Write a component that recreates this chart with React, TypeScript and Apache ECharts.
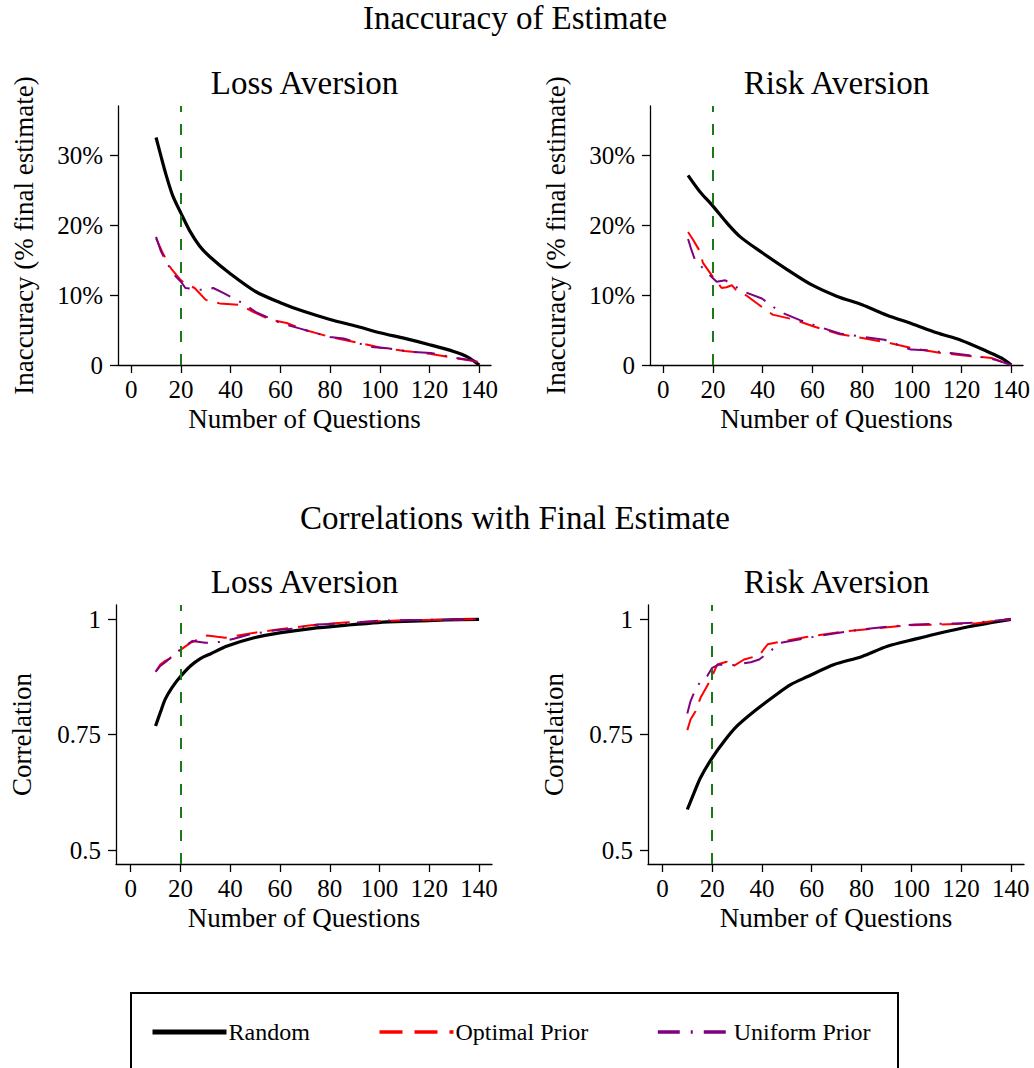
import React, { useEffect, useRef } from "react";
import * as echarts from "echarts";

const FONT = "Liberation Serif";

const xTicks = [0, 20, 40, 60, 80, 100, 120, 140];
const inaccTicks = [0, 10, 20, 30];
const corrTicks = [0.5, 0.75, 1];
const seriesNames = ["Random", "Optimal Prior", "Uniform Prior"];
const cutoff = 20;

// Inaccuracy (% of final estimate), Loss Aversion
const lossInaccRandom = [[10, 32.5], [12, 29.8], [14, 27.2], [16.7, 24.2], [20, 21.7], [23.5, 19.2], [27.5, 17.0], [31.5, 15.5], [40, 13.0], [50, 10.5], [60, 8.9], [69, 7.7], [80, 6.5], [91, 5.5], [100, 4.6], [110, 3.8], [120, 2.9], [130, 1.9], [135, 1.2], [140, 0]];
const lossInaccOptimal = [[10, 18.1], [12.7, 16.0], [16, 13.8], [20, 12.1], [22, 11.6], [25.5, 11.0], [30, 9.3], [35.6, 8.8], [43.7, 8.6], [49, 7.6], [55.8, 6.5], [62.5, 6.0], [69, 5.1], [80, 4.0], [91, 3.2], [100, 2.5], [110, 2.0], [120, 1.6], [130, 1.0], [139, 0.5], [140, 0]];
const lossInaccUniform = [[10, 18.3], [12, 16.2], [16.7, 13.1], [20, 11.9], [21.8, 11.0], [26, 10.8], [30, 10.7], [33, 11.0], [37, 10.3], [45, 8.8], [50.4, 7.5], [60, 6.0], [68, 5.2], [80, 4.0], [85.4, 3.8], [96, 2.6], [103, 2.4], [112, 1.9], [120.5, 1.7], [131, 1.0], [138, 0.6], [140, 0]];

// Inaccuracy, Risk Aversion
const riskInaccRandom = [[10, 27.1], [14.7, 24.8], [20, 22.7], [25.6, 20.3], [31, 18.3], [40, 16.0], [50, 13.6], [60, 11.4], [70, 9.8], [80, 8.6], [90, 7.1], [100, 5.9], [110, 4.6], [120, 3.5], [130.5, 1.9], [136, 1.0], [140, 0]];
const riskInaccOptimal = [[10, 19.0], [12, 17.9], [14.5, 16.4], [16, 14.6], [19, 13.1], [20, 12.6], [23.5, 11.0], [25.5, 11.1], [27.6, 11.4], [29.6, 10.6], [33.6, 9.9], [40, 8.2], [44, 7.2], [52.5, 6.5], [60.6, 5.5], [71, 4.4], [78, 4.0], [91.5, 3.1], [100, 2.4], [112, 1.7], [120, 1.4], [132, 1.0], [140, 0]];
const riskInaccUniform = [[10, 18.0], [11.4, 16.4], [12.8, 15.0], [18, 13.1], [21.5, 11.9], [25, 12.1], [32.3, 10.5], [39.7, 9.5], [47, 7.6], [55, 6.4], [64, 5.3], [71, 4.5], [80.8, 4.0], [89, 3.6], [99.6, 2.2], [105.7, 2.1], [115.7, 1.7], [125, 1.3], [133, 0.8], [140, 0]];

// Correlation with final estimate, Loss Aversion
const lossCorrRandom = [[10, 0.769], [11.9, 0.798], [13.9, 0.827], [16.6, 0.852], [20, 0.876], [24, 0.899], [28, 0.915], [32, 0.925], [38.8, 0.942], [49.6, 0.96], [60.4, 0.971], [72.5, 0.98], [86, 0.987], [99.5, 0.993], [113, 0.996], [126.4, 0.9985], [140, 1.0]];
const lossCorrOptimal = [[10.2, 0.888], [11.9, 0.902], [13.9, 0.91], [15.6, 0.915], [18.6, 0.928], [20.6, 0.936], [24, 0.949], [30.7, 0.965], [34.8, 0.962], [38, 0.96], [45.5, 0.967], [52.3, 0.973], [59, 0.978], [72.5, 0.987], [86, 0.993], [99.5, 0.996], [113, 0.9985], [140, 1.0]];
const lossCorrUniform = [[10, 0.886], [11.9, 0.899], [14.6, 0.91], [20, 0.935], [24.7, 0.953], [30, 0.949], [36, 0.951], [41.5, 0.958], [47.6, 0.967], [59, 0.977], [65.8, 0.98], [75, 0.989], [86, 0.991], [99.5, 0.997], [113, 0.9985], [140, 1.0]];

// Correlation, Risk Aversion
const riskCorrRandom = [[10, 0.588], [12.7, 0.624], [15.3, 0.657], [20, 0.7], [24.8, 0.736], [30, 0.769], [36.9, 0.801], [45, 0.834], [51.7, 0.859], [58.4, 0.876], [69, 0.902], [80, 0.919], [90.7, 0.942], [101.5, 0.957], [112, 0.971], [123, 0.984], [132.4, 0.993], [140, 1.0]];
const riskCorrOptimal = [[10, 0.76], [11.3, 0.783], [13.3, 0.801], [15.3, 0.83], [17.4, 0.85], [19.4, 0.87], [22, 0.902], [25.8, 0.908], [27.5, 0.895], [32.8, 0.913], [38.9, 0.922], [42.3, 0.946], [49, 0.953], [58.4, 0.962], [71.9, 0.973], [85.3, 0.98], [98.8, 0.987], [112, 0.989], [125.7, 0.991], [132.4, 0.996], [140, 1.0]];
const riskCorrUniform = [[10, 0.796], [11.3, 0.823], [12.7, 0.841], [15, 0.863], [18, 0.877], [20, 0.895], [22.7, 0.902], [27.5, 0.9], [35.5, 0.907], [38.9, 0.913], [47.6, 0.949], [58.4, 0.96], [66.5, 0.967], [80, 0.978], [90.7, 0.984], [101.5, 0.989], [117.6, 0.991], [125.7, 0.993], [140, 1.0]];

const panels = [
  { data: [lossInaccRandom, lossInaccOptimal, lossInaccUniform], kind: "inacc" },
  { data: [riskInaccRandom, riskInaccOptimal, riskInaccUniform], kind: "inacc" },
  { data: [lossCorrRandom, lossCorrOptimal, lossCorrUniform], kind: "corr" },
  { data: [riskCorrRandom, riskCorrOptimal, riskCorrUniform], kind: "corr" },
];

const grids = [
  { left: 118, top: 106, width: 373, height: 259, xmin: -5.3, xmax: 144.7 },
  { left: 650, top: 106, width: 373, height: 259, xmin: -5.3, xmax: 144.7 },
  { left: 116, top: 605, width: 376, height: 259, xmin: -5.9, xmax: 145.2 },
  { left: 648, top: 605, width: 376, height: 259, xmin: -5.8, xmax: 145.3 },
];

const lineStyles = [
  { color: "#000000", width: 3.2, type: "solid" },
  { color: "#ff0000", width: 2, type: [21, 10] },
  { color: "#800080", width: 2, type: [21, 10, 2, 10] },
];

const legendLineStyles = [
  { width: 5, type: "solid" },
  { width: 3.3, type: [23, 12] },
  { width: 3.3, type: [22, 11, 2, 11] },
];

export default function App() {
  const ref = useRef<HTMLDivElement>(null);
  useEffect(() => {
    if (!ref.current) return;
    const chart = echarts.init(ref.current, null, { renderer: "svg" });
    const axisLine = { lineStyle: { color: "#000", width: 1.3 } };
    const axisTick = { length: 8, lineStyle: { color: "#000", width: 1.3 } };
    const labelStyle = { fontFamily: FONT, fontSize: 25, color: "#000" };
    const nameStyle = { fontFamily: FONT, fontSize: 27, color: "#000" };
    const titleStyle = { fontFamily: FONT, fontSize: 33, fontWeight: "normal", color: "#000" };

    const xAxis = grids.map((g, i) => ({
      type: "value",
      gridIndex: i,
      min: g.xmin,
      max: g.xmax,
      name: "Number of Questions",
      nameLocation: "middle",
      nameGap: 40,
      nameTextStyle: nameStyle,
      axisLine: { show: true, onZero: false, ...axisLine },
      axisTick: { show: true, ...axisTick, customValues: xTicks },
      axisLabel: { ...labelStyle, margin: 12, customValues: xTicks },
      splitLine: { show: false },
    }));

    const yAxis = panels.map((p, i) => {
      const inacc = p.kind === "inacc";
      return {
        type: "value",
        gridIndex: i,
        min: inacc ? 0 : 0.47,
        max: inacc ? 37 : 1.031,
        name: inacc ? "Inaccuracy (% final estimate)" : "Correlation",
        nameLocation: "middle",
        nameGap: 81,
        nameTextStyle: nameStyle,
        axisLine: { show: true, onZero: false, ...axisLine },
        axisTick: { show: true, ...axisTick, customValues: inacc ? inaccTicks : corrTicks },
        axisLabel: {
          ...labelStyle,
          margin: 15,
          customValues: inacc ? inaccTicks : corrTicks,
          formatter: (v: number) => (inacc ? (v === 0 ? "0" : `${v}%`) : `${v}`),
        },
        splitLine: { show: false },
      };
    });

    const series: any[] = [];
    panels.forEach((p, i) => {
      p.data.forEach((d, k) => {
        series.push({
          type: "line",
          name: seriesNames[k],
          xAxisIndex: i,
          yAxisIndex: i,
          data: d,
          showSymbol: false,
          symbol: "none",
          smooth: k === 0 ? 0.3 : false,
          lineStyle: lineStyles[k],
          itemStyle: { color: lineStyles[k].color },
          z: 2 + k,
          markLine:
            k === 0
              ? {
                  silent: true,
                  symbol: "none",
                  label: { show: false },
                  lineStyle: { color: "#1a7a1a", type: [11, 12], width: 2 },
                  data: [{ xAxis: cutoff }],
                }
              : undefined,
        });
      });
    });

    const titleBase = { textAlign: "center", padding: 0, textStyle: titleStyle };
    const option: any = {
      animation: false,
      backgroundColor: "#fff",
      title: [
        { ...titleBase, text: "Inaccuracy of Estimate", left: 515, top: 1 },
        { ...titleBase, text: "Loss Aversion", left: 304.5, top: 66 },
        { ...titleBase, text: "Risk Aversion", left: 836.5, top: 66 },
        { ...titleBase, text: "Correlations with Final Estimate", left: 515, top: 501 },
        { ...titleBase, text: "Loss Aversion", left: 304.5, top: 565 },
        { ...titleBase, text: "Risk Aversion", left: 836.5, top: 565 },
      ],
      legend: {
        data: seriesNames.map((n, k) => ({ name: n, lineStyle: legendLineStyles[k] })),
        left: 150,
        top: 1020,
        padding: 0,
        itemWidth: 74,
        itemHeight: 14,
        itemGap: 68,
        itemStyle: { opacity: 0 },
        textStyle: { fontFamily: FONT, fontSize: 24, color: "#000", padding: [0, 0, 0, -3] },
        selectedMode: false,
      },
      graphic: [
        {
          type: "rect",
          shape: { x: 131, y: 993, width: 767, height: 110 },
          style: { fill: "none", stroke: "#000", lineWidth: 2 },
          silent: true,
        },
      ],
      grid: grids.map((g) => ({ left: g.left, top: g.top, width: g.width, height: g.height })),
      xAxis,
      yAxis,
      series,
    };
    chart.setOption(option);
    return () => chart.dispose();
  }, []);
  return <div ref={ref} style={{ width: 1034, height: 1068, position: "absolute", left: 0, top: 0 }} />;
}
